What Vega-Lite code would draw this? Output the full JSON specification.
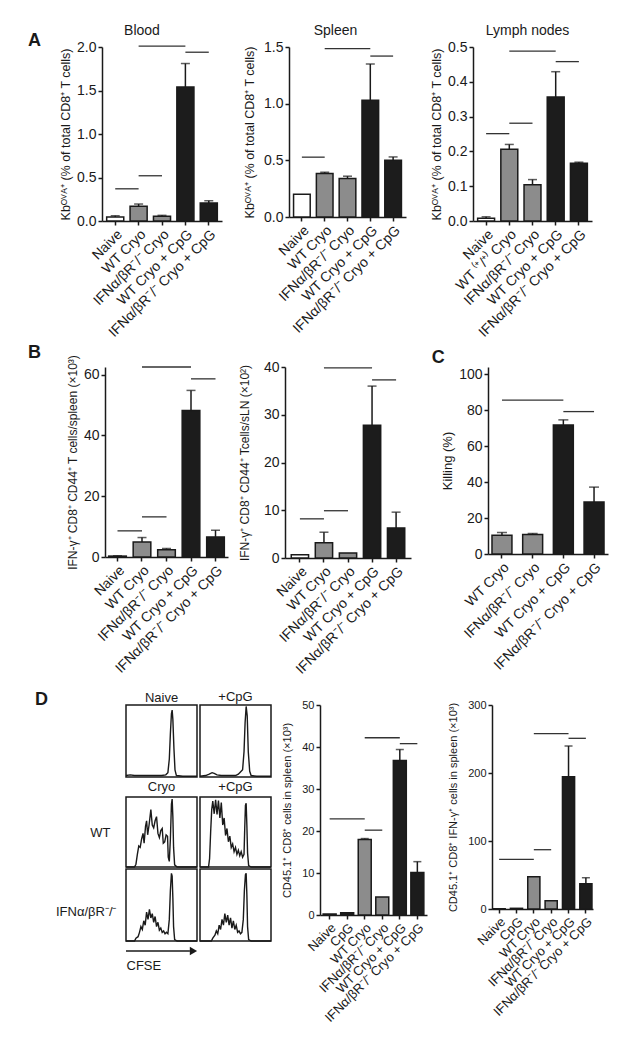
{
 "$schema": "https://vega.github.io/schema/vega-lite/v6.json",
 "background": "white",
 "padding": {"left": 23, "top": 24, "right": 4, "bottom": 4},
 "config": {
  "font": "Liberation Sans",
  "view": {"stroke": null},
  "axis": {"labelFont": "Liberation Sans", "titleFont": "Liberation Sans", "labelFontSize": 14, "titleFontSize": 12.5, "titleFontWeight": "normal", "labelColor": "#1a1a1a", "titleColor": "#1a1a1a", "domainColor": "#1a1a1a", "tickColor": "#1a1a1a", "domainWidth": 1.5, "tickWidth": 1.5, "tickSize": 4, "grid": false, "labelPadding": 2, "titlePadding": 4, "labelOverlap": false},
  "title": {"font": "Liberation Sans", "fontWeight": "normal", "fontSize": 14, "color": "#1a1a1a"},
  "text": {"font": "Liberation Sans"}
 },
 "columns": 1,
 "align": "none",
 "spacing": 4,
 "concat": [
  {
   "bounds": "flush",
   "spacing": 67,
   "hconcat": [
    {"width": 12, "height": 2,
     "data": {"values": [{"t": "A"}]},
     "mark": {"type": "text", "fontSize": 18, "fontWeight": "bold", "color": "#1a1a1a", "align": "left", "baseline": "alphabetic", "dx": -1, "dy": -2},
     "encoding": {"text": {"field": "t"}}},
    {
     "width": 120, "height": 174,
     "title": {"text": "Blood", "dx": -20, "offset": 2},
     "data": {"values": [
      {"g": "Naive", "c": "w", "m": 0.045, "u": 0.06},
      {"g": "WT Cryo", "c": "g", "m": 0.17, "u": 0.195},
      {"g": "IFNα/βR⁻/⁻ Cryo", "c": "g", "m": 0.055, "u": 0.065},
      {"g": "WT Cryo + CpG", "c": "k", "m": 1.54, "u": 1.81},
      {"g": "IFNα/βR⁻/⁻ Cryo + CpG", "c": "k", "m": 0.207, "u": 0.233}
     ]},
     "layer": [
      {"mark": {"type": "bar", "stroke": "#1a1a1a", "strokeWidth": 1.5},
       "encoding": {
        "x": {"field": "g", "type": "nominal", "title": null, "scale": {"domain": ["Naive", "WT Cryo", "IFNα/βR⁻/⁻ Cryo", "WT Cryo + CpG", "IFNα/βR⁻/⁻ Cryo + CpG"], "paddingInner": 0.27, "paddingOuter": 0.2}, "axis": {"labelAngle": -45}},
        "y": {"field": "m", "type": "quantitative", "title": "Kbᴼⱽᴬ⁺ (% of total CD8⁺ T cells)", "scale": {"domain": [0, 2], "nice": false}, "axis": {"values": [0, 0.5, 1, 1.5, 2], "tickCount": 12, "format": ".1f"}},
        "fill": {"field": "c", "type": "nominal", "scale": {"domain": ["w", "g", "k"], "range": ["#ffffff", "#8c8c8c", "#1c1c1c"]}, "legend": null}}},
      {"transform": [{"filter": "isValid(datum.u)"}], "mark": {"type": "rule", "color": "#1a1a1a", "strokeWidth": 1.5},
       "encoding": {"x": {"field": "g", "type": "nominal", "title": null}, "y": {"field": "m", "type": "quantitative", "title": "Kbᴼⱽᴬ⁺ (% of total CD8⁺ T cells)"}, "y2": {"field": "u"}}},
      {"transform": [{"filter": "isValid(datum.u)"}], "mark": {"type": "tick", "color": "#1a1a1a", "thickness": 1.5, "size": 9},
       "encoding": {"x": {"field": "g", "type": "nominal", "title": null}, "y": {"field": "u", "type": "quantitative", "title": "Kbᴼⱽᴬ⁺ (% of total CD8⁺ T cells)"}}},
      {"data": {"values": [
        {"a": "Naive", "b": "WT Cryo", "y": 0.37},
        {"a": "WT Cryo", "b": "IFNα/βR⁻/⁻ Cryo", "y": 0.52},
        {"a": "WT Cryo", "b": "WT Cryo + CpG", "y": 2.01},
        {"a": "WT Cryo + CpG", "b": "IFNα/βR⁻/⁻ Cryo + CpG", "y": 1.94}
       ]},
       "mark": {"type": "rule", "color": "#333333", "strokeWidth": 1.3},
       "encoding": {"x": {"field": "a", "type": "nominal", "title": null}, "x2": {"field": "b"}, "y": {"field": "y", "type": "quantitative", "title": "Kbᴼⱽᴬ⁺ (% of total CD8⁺ T cells)"}}}
     ]
    },
    {
     "width": 117, "height": 170,
     "title": {"text": "Spleen", "dx": -12, "offset": 2},
     "data": {"values": [
      {"g": "Naive", "c": "w", "m": 0.2},
      {"g": "WT Cryo", "c": "g", "m": 0.383, "u": 0.395},
      {"g": "IFNα/βR⁻/⁻ Cryo", "c": "g", "m": 0.34, "u": 0.36},
      {"g": "WT Cryo + CpG", "c": "k", "m": 1.03, "u": 1.35},
      {"g": "IFNα/βR⁻/⁻ Cryo + CpG", "c": "k", "m": 0.5, "u": 0.53}
     ]},
     "layer": [
      {"mark": {"type": "bar", "stroke": "#1a1a1a", "strokeWidth": 1.5},
       "encoding": {
        "x": {"field": "g", "type": "nominal", "title": null, "scale": {"domain": ["Naive", "WT Cryo", "IFNα/βR⁻/⁻ Cryo", "WT Cryo + CpG", "IFNα/βR⁻/⁻ Cryo + CpG"], "paddingInner": 0.27, "paddingOuter": 0.2}, "axis": {"labelAngle": -45}},
        "y": {"field": "m", "type": "quantitative", "title": "Kbᴼⱽᴬ⁺ (% of total CD8⁺ T cells)", "scale": {"domain": [0, 1.5], "nice": false}, "axis": {"values": [0, 0.5, 1, 1.5], "tickCount": 12, "format": ".1f", "titlePadding": 7}},
        "fill": {"field": "c", "type": "nominal", "scale": {"domain": ["w", "g", "k"], "range": ["#ffffff", "#8c8c8c", "#1c1c1c"]}, "legend": null}}},
      {"transform": [{"filter": "isValid(datum.u)"}], "mark": {"type": "rule", "color": "#1a1a1a", "strokeWidth": 1.5},
       "encoding": {"x": {"field": "g", "type": "nominal", "title": null}, "y": {"field": "m", "type": "quantitative", "title": "Kbᴼⱽᴬ⁺ (% of total CD8⁺ T cells)"}, "y2": {"field": "u"}}},
      {"transform": [{"filter": "isValid(datum.u)"}], "mark": {"type": "tick", "color": "#1a1a1a", "thickness": 1.5, "size": 9},
       "encoding": {"x": {"field": "g", "type": "nominal", "title": null}, "y": {"field": "u", "type": "quantitative", "title": "Kbᴼⱽᴬ⁺ (% of total CD8⁺ T cells)"}}},
      {"data": {"values": [
        {"a": "Naive", "b": "WT Cryo", "y": 0.528},
        {"a": "WT Cryo", "b": "WT Cryo + CpG", "y": 1.485},
        {"a": "WT Cryo + CpG", "b": "IFNα/βR⁻/⁻ Cryo + CpG", "y": 1.42}
       ]},
       "mark": {"type": "rule", "color": "#333333", "strokeWidth": 1.3},
       "encoding": {"x": {"field": "a", "type": "nominal", "title": null}, "x2": {"field": "b"}, "y": {"field": "y", "type": "quantitative", "title": "Kbᴼⱽᴬ⁺ (% of total CD8⁺ T cells)"}}}
     ]
    },
    {
     "width": 119, "height": 174,
     "title": {"text": "Lymph nodes", "dx": -5, "offset": 2},
     "data": {"values": [
      {"g": "Naive", "c": "w", "m": 0.008, "u": 0.012},
      {"g": "WT ⁽⁺/⁺⁾ Cryo", "c": "g", "m": 0.206, "u": 0.22},
      {"g": "IFNα/βR⁻/⁻ Cryo", "c": "g", "m": 0.104, "u": 0.119},
      {"g": "WT Cryo + CpG", "c": "k", "m": 0.356, "u": 0.429},
      {"g": "IFNα/βR⁻/⁻ Cryo + CpG", "c": "k", "m": 0.166, "u": 0.169}
     ]},
     "layer": [
      {"mark": {"type": "bar", "stroke": "#1a1a1a", "strokeWidth": 1.5},
       "encoding": {
        "x": {"field": "g", "type": "nominal", "title": null, "scale": {"domain": ["Naive", "WT ⁽⁺/⁺⁾ Cryo", "IFNα/βR⁻/⁻ Cryo", "WT Cryo + CpG", "IFNα/βR⁻/⁻ Cryo + CpG"], "paddingInner": 0.27, "paddingOuter": 0.2}, "axis": {"labelAngle": -45}},
        "y": {"field": "m", "type": "quantitative", "title": "Kbᴼⱽᴬ⁺ (% of total CD8⁺ T cells)", "scale": {"domain": [0, 0.5], "nice": false}, "axis": {"values": [0, 0.1, 0.2, 0.3, 0.4, 0.5], "tickCount": 12, "format": ".1f"}},
        "fill": {"field": "c", "type": "nominal", "scale": {"domain": ["w", "g", "k"], "range": ["#ffffff", "#8c8c8c", "#1c1c1c"]}, "legend": null}}},
      {"transform": [{"filter": "isValid(datum.u)"}], "mark": {"type": "rule", "color": "#1a1a1a", "strokeWidth": 1.5},
       "encoding": {"x": {"field": "g", "type": "nominal", "title": null}, "y": {"field": "m", "type": "quantitative", "title": "Kbᴼⱽᴬ⁺ (% of total CD8⁺ T cells)"}, "y2": {"field": "u"}}},
      {"transform": [{"filter": "isValid(datum.u)"}], "mark": {"type": "tick", "color": "#1a1a1a", "thickness": 1.5, "size": 9},
       "encoding": {"x": {"field": "g", "type": "nominal", "title": null}, "y": {"field": "u", "type": "quantitative", "title": "Kbᴼⱽᴬ⁺ (% of total CD8⁺ T cells)"}}},
      {"data": {"values": [
        {"a": "Naive", "b": "WT ⁽⁺/⁺⁾ Cryo", "y": 0.251},
        {"a": "WT ⁽⁺/⁺⁾ Cryo", "b": "IFNα/βR⁻/⁻ Cryo", "y": 0.281},
        {"a": "WT ⁽⁺/⁺⁾ Cryo", "b": "WT Cryo + CpG", "y": 0.488},
        {"a": "WT Cryo + CpG", "b": "IFNα/βR⁻/⁻ Cryo + CpG", "y": 0.458}
       ]},
       "mark": {"type": "rule", "color": "#333333", "strokeWidth": 1.3},
       "encoding": {"x": {"field": "a", "type": "nominal", "title": null}, "x2": {"field": "b"}, "y": {"field": "y", "type": "quantitative", "title": "Kbᴼⱽᴬ⁺ (% of total CD8⁺ T cells)"}}}
     ]
    }
   ]
  },
  {
   "columns": 1,
   "align": "none",
   "spacing": 12,
   "concat": [
    {
     "spacing": 20,
     "hconcat": [
      {
       "bounds": "flush",
       "spacing": 57,
       "hconcat": [
        {"width": 25, "height": 2,
         "data": {"values": [{"t": "B"}]},
         "mark": {"type": "text", "fontSize": 18, "fontWeight": "bold", "color": "#1a1a1a", "align": "left", "baseline": "alphabetic", "dx": -7.5, "dy": -10},
         "encoding": {"text": {"field": "t"}}},
        {
         "width": 123, "height": 190,
         "data": {"values": [
          {"g": "Naive", "c": "w", "m": 0.3, "u": 0.4},
          {"g": "WT Cryo", "c": "g", "m": 4.95, "u": 6.4},
          {"g": "IFNα/βR⁻/⁻ Cryo", "c": "g", "m": 2.4, "u": 2.8},
          {"g": "WT Cryo + CpG", "c": "k", "m": 48.2, "u": 54.8},
          {"g": "IFNα/βR⁻/⁻ Cryo + CpG", "c": "k", "m": 6.6, "u": 8.8}
         ]},
         "layer": [
          {"mark": {"type": "bar", "stroke": "#1a1a1a", "strokeWidth": 1.5},
           "encoding": {
            "x": {"field": "g", "type": "nominal", "title": null, "scale": {"domain": ["Naive", "WT Cryo", "IFNα/βR⁻/⁻ Cryo", "WT Cryo + CpG", "IFNα/βR⁻/⁻ Cryo + CpG"], "paddingInner": 0.28, "paddingOuter": 0.15}, "axis": {"labelAngle": -45}},
            "y": {"field": "m", "type": "quantitative", "title": "IFN-γ⁺ CD8⁺ CD44⁺ T cells/spleen (×10³)", "scale": {"domain": [0, 62.5], "nice": false}, "axis": {"values": [0, 20, 40, 60], "tickCount": 12, "titleFontSize": 12}},
            "fill": {"field": "c", "type": "nominal", "scale": {"domain": ["w", "g", "k"], "range": ["#ffffff", "#8c8c8c", "#1c1c1c"]}, "legend": null}}},
          {"transform": [{"filter": "isValid(datum.u)"}], "mark": {"type": "rule", "color": "#1a1a1a", "strokeWidth": 1.5},
           "encoding": {"x": {"field": "g", "type": "nominal", "title": null}, "y": {"field": "m", "type": "quantitative", "title": "IFN-γ⁺ CD8⁺ CD44⁺ T cells/spleen (×10³)"}, "y2": {"field": "u"}}},
          {"transform": [{"filter": "isValid(datum.u)"}], "mark": {"type": "tick", "color": "#1a1a1a", "thickness": 1.5, "size": 9},
           "encoding": {"x": {"field": "g", "type": "nominal", "title": null}, "y": {"field": "u", "type": "quantitative", "title": "IFN-γ⁺ CD8⁺ CD44⁺ T cells/spleen (×10³)"}}},
          {"data": {"values": [
            {"a": "Naive", "b": "WT Cryo", "y": 8.6},
            {"a": "WT Cryo", "b": "IFNα/βR⁻/⁻ Cryo", "y": 13.2},
            {"a": "WT Cryo", "b": "WT Cryo + CpG", "y": 62.5},
            {"a": "WT Cryo + CpG", "b": "IFNα/βR⁻/⁻ Cryo + CpG", "y": 58.6}
           ]},
           "mark": {"type": "rule", "color": "#333333", "strokeWidth": 1.3},
           "encoding": {"x": {"field": "a", "type": "nominal", "title": null}, "x2": {"field": "b"}, "y": {"field": "y", "type": "quantitative", "title": "IFN-γ⁺ CD8⁺ CD44⁺ T cells/spleen (×10³)"}}}
         ]
        },
        {
         "width": 126, "height": 191,
         "data": {"values": [
          {"g": "Naive", "c": "w", "m": 0.7},
          {"g": "WT Cryo", "c": "g", "m": 3.2, "u": 5.4},
          {"g": "IFNα/βR⁻/⁻ Cryo", "c": "g", "m": 1.05},
          {"g": "WT Cryo + CpG", "c": "k", "m": 27.8, "u": 36.0},
          {"g": "IFNα/βR⁻/⁻ Cryo + CpG", "c": "k", "m": 6.3, "u": 9.6}
         ]},
         "layer": [
          {"mark": {"type": "bar", "stroke": "#1a1a1a", "strokeWidth": 1.5},
           "encoding": {
            "x": {"field": "g", "type": "nominal", "title": null, "scale": {"domain": ["Naive", "WT Cryo", "IFNα/βR⁻/⁻ Cryo", "WT Cryo + CpG", "IFNα/βR⁻/⁻ Cryo + CpG"], "paddingInner": 0.28, "paddingOuter": 0.26}, "axis": {"labelAngle": -45}},
            "y": {"field": "m", "type": "quantitative", "title": "IFN-γ⁺ CD8⁺ CD44⁺ Tcells/sLN (×10²)", "scale": {"domain": [0, 40], "nice": false}, "axis": {"values": [0, 10, 20, 30, 40], "tickCount": 12, "titleFontSize": 12, "titlePadding": 12}},
            "fill": {"field": "c", "type": "nominal", "scale": {"domain": ["w", "g", "k"], "range": ["#ffffff", "#8c8c8c", "#1c1c1c"]}, "legend": null}}},
          {"transform": [{"filter": "isValid(datum.u)"}], "mark": {"type": "rule", "color": "#1a1a1a", "strokeWidth": 1.5},
           "encoding": {"x": {"field": "g", "type": "nominal", "title": null}, "y": {"field": "m", "type": "quantitative", "title": "IFN-γ⁺ CD8⁺ CD44⁺ Tcells/sLN (×10²)"}, "y2": {"field": "u"}}},
          {"transform": [{"filter": "isValid(datum.u)"}], "mark": {"type": "tick", "color": "#1a1a1a", "thickness": 1.5, "size": 9},
           "encoding": {"x": {"field": "g", "type": "nominal", "title": null}, "y": {"field": "u", "type": "quantitative", "title": "IFN-γ⁺ CD8⁺ CD44⁺ Tcells/sLN (×10²)"}}},
          {"data": {"values": [
            {"a": "Naive", "b": "WT Cryo", "y": 8.2},
            {"a": "WT Cryo", "b": "IFNα/βR⁻/⁻ Cryo", "y": 9.9},
            {"a": "WT Cryo", "b": "WT Cryo + CpG", "y": 39.8},
            {"a": "WT Cryo + CpG", "b": "IFNα/βR⁻/⁻ Cryo + CpG", "y": 37.3}
           ]},
           "mark": {"type": "rule", "color": "#333333", "strokeWidth": 1.3},
           "encoding": {"x": {"field": "a", "type": "nominal", "title": null}, "x2": {"field": "b"}, "y": {"field": "y", "type": "quantitative", "title": "IFN-γ⁺ CD8⁺ CD44⁺ Tcells/sLN (×10²)"}}}
         ]
        }
       ]
      },
      {
       "width": 120, "height": 187,
       "title": {"text": "C", "anchor": "start", "frame": "bounds", "fontSize": 18, "fontWeight": "bold", "dx": -10, "offset": 0},
       "data": {"values": [
        {"g": "WT Cryo", "c": "g", "m": 10.4, "u": 12.0},
        {"g": "IFNα/βR⁻/⁻ Cryo", "c": "g", "m": 10.9, "u": 11.4},
        {"g": "WT Cryo + CpG", "c": "k", "m": 71.8, "u": 74.6},
        {"g": "IFNα/βR⁻/⁻ Cryo + CpG", "c": "k", "m": 28.9, "u": 37.2}
       ]},
       "layer": [
        {"mark": {"type": "bar", "stroke": "#1a1a1a", "strokeWidth": 1.5},
         "encoding": {
          "x": {"field": "g", "type": "nominal", "title": null, "scale": {"domain": ["WT Cryo", "IFNα/βR⁻/⁻ Cryo", "WT Cryo + CpG", "IFNα/βR⁻/⁻ Cryo + CpG"], "paddingInner": 0.35, "paddingOuter": 0.13}, "axis": {"labelAngle": -45}},
          "y": {"field": "m", "type": "quantitative", "title": "Killing (%)", "scale": {"domain": [0, 104], "nice": false}, "axis": {"values": [0, 20, 40, 60, 80, 100], "tickCount": 12, "titleFontSize": 13}},
          "fill": {"field": "c", "type": "nominal", "scale": {"domain": ["w", "g", "k"], "range": ["#ffffff", "#8c8c8c", "#1c1c1c"]}, "legend": null}}},
        {"transform": [{"filter": "isValid(datum.u)"}], "mark": {"type": "rule", "color": "#1a1a1a", "strokeWidth": 1.5},
         "encoding": {"x": {"field": "g", "type": "nominal", "title": null}, "y": {"field": "m", "type": "quantitative", "title": "Killing (%)"}, "y2": {"field": "u"}}},
        {"transform": [{"filter": "isValid(datum.u)"}], "mark": {"type": "tick", "color": "#1a1a1a", "thickness": 1.5, "size": 10},
         "encoding": {"x": {"field": "g", "type": "nominal", "title": null}, "y": {"field": "u", "type": "quantitative", "title": "Killing (%)"}}},
        {"data": {"values": [
          {"a": "WT Cryo", "b": "WT Cryo + CpG", "y": 85.6},
          {"a": "WT Cryo + CpG", "b": "IFNα/βR⁻/⁻ Cryo + CpG", "y": 79.2}
         ]},
         "mark": {"type": "rule", "color": "#333333", "strokeWidth": 1.3},
         "encoding": {"x": {"field": "a", "type": "nominal", "title": null}, "x2": {"field": "b"}, "y": {"field": "y", "type": "quantitative", "title": "Killing (%)"}}}
       ]
      }
     ]
    },
    {
     "spacing": 6,
     "hconcat": [
      {"width": 1, "height": 2,
       "data": {"values": [{"t": "D"}]},
       "mark": {"type": "text", "fontSize": 18, "fontWeight": "bold", "color": "#1a1a1a", "align": "left", "baseline": "alphabetic", "dx": 11.5, "dy": -1},
       "encoding": {"text": {"field": "t"}}},
      {
       "columns": 2,
       "bounds": "flush",
       "align": "each",
       "spacing": {"row": 2, "column": 3},
       "concat": [
        {"width": 71, "height": 72, "view": {"stroke": "#1a1a1a", "strokeWidth": 1.5},
         "title": {"text": "Naive", "fontSize": 13, "offset": 0},
         "data": {"values": [{"x": 0, "y": 2}, {"x": 6, "y": 3}, {"x": 12, "y": 2}, {"x": 20, "y": 2}, {"x": 30, "y": 2}, {"x": 40, "y": 2}, {"x": 50, "y": 2}, {"x": 56, "y": 3}, {"x": 59, "y": 6}, {"x": 61, "y": 25}, {"x": 62.5, "y": 60}, {"x": 64, "y": 88}, {"x": 65, "y": 93}, {"x": 66, "y": 80}, {"x": 67.5, "y": 40}, {"x": 69, "y": 10}, {"x": 71, "y": 2}, {"x": 80, "y": 1}, {"x": 100, "y": 1}]},
         "mark": {"type": "line", "color": "#1a1a1a", "strokeWidth": 1.4},
         "encoding": {"x": {"field": "x", "type": "quantitative", "scale": {"domain": [0, 100], "nice": false}, "axis": null}, "y": {"field": "y", "type": "quantitative", "scale": {"domain": [0, 100], "nice": false}, "axis": null}}},
        {"width": 71, "height": 72, "view": {"stroke": "#1a1a1a", "strokeWidth": 1.5},
         "title": {"text": "+CpG", "fontSize": 13, "offset": 0},
         "data": {"values": [{"x": 0, "y": 1}, {"x": 8, "y": 2}, {"x": 13, "y": 4}, {"x": 17, "y": 6}, {"x": 20, "y": 5}, {"x": 24, "y": 3}, {"x": 30, "y": 2}, {"x": 40, "y": 2}, {"x": 50, "y": 2}, {"x": 54, "y": 4}, {"x": 57, "y": 7}, {"x": 60, "y": 10}, {"x": 62, "y": 35}, {"x": 63.5, "y": 75}, {"x": 65, "y": 98}, {"x": 66.5, "y": 85}, {"x": 68, "y": 35}, {"x": 70, "y": 8}, {"x": 72, "y": 2}, {"x": 80, "y": 1}, {"x": 100, "y": 1}]},
         "mark": {"type": "line", "color": "#1a1a1a", "strokeWidth": 1.4},
         "encoding": {"x": {"field": "x", "type": "quantitative", "scale": {"domain": [0, 100], "nice": false}, "axis": null}, "y": {"field": "y", "type": "quantitative", "scale": {"domain": [0, 100], "nice": false}, "axis": null}}},
        {"width": 71, "height": 16,
         "data": {"values": [{"t": "Cryo"}]},
         "mark": {"type": "text", "fontSize": 13, "color": "#1a1a1a", "baseline": "middle"},
         "encoding": {"text": {"field": "t"}}},
        {"width": 71, "height": 16,
         "data": {"values": [{"t": "+CpG"}]},
         "mark": {"type": "text", "fontSize": 13, "color": "#1a1a1a", "baseline": "middle"},
         "encoding": {"text": {"field": "t"}}},
        {"width": 71, "height": 70, "view": {"stroke": "#1a1a1a", "strokeWidth": 1.5},
         "data": {"values": [{"x": 0, "y": 0}, {"x": 12, "y": 0}, {"x": 14, "y": 4}, {"x": 16, "y": 18}, {"x": 18, "y": 30}, {"x": 20, "y": 28}, {"x": 22, "y": 40}, {"x": 24, "y": 48}, {"x": 25.5, "y": 34}, {"x": 27.5, "y": 58}, {"x": 29, "y": 66}, {"x": 30.5, "y": 46}, {"x": 32.5, "y": 60}, {"x": 35, "y": 82}, {"x": 37, "y": 60}, {"x": 39, "y": 56}, {"x": 41, "y": 66}, {"x": 43, "y": 72}, {"x": 45, "y": 48}, {"x": 47, "y": 42}, {"x": 49, "y": 52}, {"x": 51, "y": 55}, {"x": 52.5, "y": 34}, {"x": 54.5, "y": 36}, {"x": 56.5, "y": 46}, {"x": 58.5, "y": 44}, {"x": 59.5, "y": 14}, {"x": 61, "y": 8}, {"x": 62.5, "y": 40}, {"x": 64, "y": 90}, {"x": 65, "y": 97}, {"x": 66, "y": 72}, {"x": 67, "y": 28}, {"x": 68.5, "y": 3}, {"x": 72, "y": 0}, {"x": 100, "y": 0}]},
         "mark": {"type": "line", "color": "#1a1a1a", "strokeWidth": 1.4},
         "encoding": {"x": {"field": "x", "type": "quantitative", "scale": {"domain": [0, 100], "nice": false}, "axis": null}, "y": {"field": "y", "type": "quantitative", "scale": {"domain": [0, 100], "nice": false}, "axis": {"title": "WT", "titleAngle": 0, "titleAlign": "right", "titleBaseline": "middle", "titleFontSize": 13, "labels": false, "ticks": false, "domain": false, "titlePadding": 16}}}},
        {"width": 71, "height": 70, "view": {"stroke": "#1a1a1a", "strokeWidth": 1.5},
         "data": {"values": [{"x": 0, "y": 0}, {"x": 12, "y": 0}, {"x": 13.5, "y": 12}, {"x": 15, "y": 50}, {"x": 16.5, "y": 82}, {"x": 18, "y": 94}, {"x": 20, "y": 76}, {"x": 22, "y": 96}, {"x": 24, "y": 75}, {"x": 26, "y": 95}, {"x": 28, "y": 70}, {"x": 30, "y": 92}, {"x": 32, "y": 60}, {"x": 34, "y": 70}, {"x": 36, "y": 45}, {"x": 38, "y": 55}, {"x": 40, "y": 36}, {"x": 42, "y": 44}, {"x": 44, "y": 28}, {"x": 46, "y": 33}, {"x": 48, "y": 22}, {"x": 50, "y": 28}, {"x": 52, "y": 18}, {"x": 54, "y": 24}, {"x": 56, "y": 16}, {"x": 58, "y": 22}, {"x": 60, "y": 14}, {"x": 62, "y": 18}, {"x": 63, "y": 55}, {"x": 64, "y": 88}, {"x": 65, "y": 91}, {"x": 66, "y": 60}, {"x": 67, "y": 20}, {"x": 68.5, "y": 2}, {"x": 72, "y": 0}, {"x": 100, "y": 0}]},
         "mark": {"type": "line", "color": "#1a1a1a", "strokeWidth": 1.4},
         "encoding": {"x": {"field": "x", "type": "quantitative", "scale": {"domain": [0, 100], "nice": false}, "axis": null}, "y": {"field": "y", "type": "quantitative", "scale": {"domain": [0, 100], "nice": false}, "axis": null}}},
        {"width": 71, "height": 72, "view": {"stroke": "#1a1a1a", "strokeWidth": 1.5},
         "data": {"values": [{"x": 0, "y": 0}, {"x": 12, "y": 0}, {"x": 14, "y": 4}, {"x": 17, "y": 6}, {"x": 19, "y": 12}, {"x": 21, "y": 20}, {"x": 23, "y": 16}, {"x": 25, "y": 28}, {"x": 27, "y": 22}, {"x": 29, "y": 40}, {"x": 31, "y": 30}, {"x": 33, "y": 44}, {"x": 35, "y": 32}, {"x": 37, "y": 38}, {"x": 39, "y": 26}, {"x": 41, "y": 34}, {"x": 43, "y": 20}, {"x": 45, "y": 26}, {"x": 47, "y": 15}, {"x": 49, "y": 18}, {"x": 51, "y": 12}, {"x": 53, "y": 14}, {"x": 55, "y": 10}, {"x": 57, "y": 12}, {"x": 59, "y": 10}, {"x": 61, "y": 30}, {"x": 62.5, "y": 70}, {"x": 64, "y": 94}, {"x": 65, "y": 90}, {"x": 66, "y": 60}, {"x": 67, "y": 20}, {"x": 68.5, "y": 2}, {"x": 72, "y": 0}, {"x": 100, "y": 0}]},
         "mark": {"type": "line", "color": "#1a1a1a", "strokeWidth": 1.4},
         "encoding": {"x": {"field": "x", "type": "quantitative", "scale": {"domain": [0, 100], "nice": false}, "axis": null}, "y": {"field": "y", "type": "quantitative", "scale": {"domain": [0, 100], "nice": false}, "axis": {"title": "IFNα/βR⁻/⁻", "titleAngle": 0, "titleAlign": "right", "titleBaseline": "top", "titleFontSize": 13, "labels": false, "ticks": false, "domain": false, "titlePadding": 10}}}},
        {"width": 71, "height": 72, "view": {"stroke": "#1a1a1a", "strokeWidth": 1.5},
         "data": {"values": [{"x": 0, "y": 0}, {"x": 16, "y": 0}, {"x": 18, "y": 4}, {"x": 21, "y": 8}, {"x": 23, "y": 14}, {"x": 25, "y": 10}, {"x": 27, "y": 22}, {"x": 29, "y": 16}, {"x": 31, "y": 30}, {"x": 33, "y": 22}, {"x": 35, "y": 38}, {"x": 37, "y": 26}, {"x": 39, "y": 36}, {"x": 41, "y": 22}, {"x": 43, "y": 32}, {"x": 45, "y": 18}, {"x": 47, "y": 28}, {"x": 49, "y": 16}, {"x": 51, "y": 22}, {"x": 53, "y": 12}, {"x": 55, "y": 14}, {"x": 57, "y": 10}, {"x": 59, "y": 12}, {"x": 61, "y": 30}, {"x": 62.5, "y": 70}, {"x": 64, "y": 92}, {"x": 65, "y": 94}, {"x": 66, "y": 65}, {"x": 67, "y": 20}, {"x": 68.5, "y": 2}, {"x": 72, "y": 0}, {"x": 100, "y": 0}]},
         "mark": {"type": "line", "color": "#1a1a1a", "strokeWidth": 1.4},
         "encoding": {"x": {"field": "x", "type": "quantitative", "scale": {"domain": [0, 100], "nice": false}, "axis": null}, "y": {"field": "y", "type": "quantitative", "scale": {"domain": [0, 100], "nice": false}, "axis": null}}},
        {"width": 71, "height": 16,
         "data": {"values": [{"t": "CFSE"}]},
         "layer": [
          {"mark": {"type": "rule", "color": "#1a1a1a", "strokeWidth": 1.5},
           "encoding": {"x": {"datum": 0, "type": "quantitative", "scale": {"domain": [0, 100], "nice": false}, "axis": {"title": "CFSE", "labels": false, "ticks": false, "domain": false, "titleAnchor": "start", "titleFontSize": 13, "titlePadding": 0}}, "x2": {"datum": 90}, "y": {"datum": 0, "type": "quantitative", "scale": {"domain": [-1, 1]}, "axis": null}}},
          {"mark": {"type": "point", "shape": "triangle-right", "filled": true, "size": 70, "color": "#1a1a1a", "opacity": 1},
           "encoding": {"x": {"datum": 95, "type": "quantitative"}, "y": {"datum": 0, "type": "quantitative"}}}
         ]}
       ]
      },
      {
       "bounds": "flush",
       "spacing": 65,
       "hconcat": [
        {
         "width": 107, "height": 210,
         "data": {"values": [
          {"g": "Naive", "c": "w", "m": 0.25},
          {"g": "CpG", "c": "k", "m": 0.55},
          {"g": "WT Cryo", "c": "g", "m": 18.0, "u": 18.2},
          {"g": "IFNα/βR⁻/⁻ Cryo", "c": "g", "m": 4.3},
          {"g": "WT Cryo + CpG", "c": "k", "m": 36.8, "u": 39.4},
          {"g": "IFNα/βR⁻/⁻ Cryo + CpG", "c": "k", "m": 10.1, "u": 12.7}
         ]},
         "layer": [
          {"mark": {"type": "bar", "stroke": "#1a1a1a", "strokeWidth": 1.5},
           "encoding": {
            "x": {"field": "g", "type": "nominal", "title": null, "scale": {"domain": ["Naive", "CpG", "WT Cryo", "IFNα/βR⁻/⁻ Cryo", "WT Cryo + CpG", "IFNα/βR⁻/⁻ Cryo + CpG"], "paddingInner": 0.26, "paddingOuter": 0.18}, "axis": {"labelAngle": -45, "labelFontSize": 13}},
            "y": {"field": "m", "type": "quantitative", "title": "CD45.1⁺ CD8⁺ cells in spleen (×10³)", "scale": {"domain": [0, 50], "nice": false}, "axis": {"values": [0, 10, 20, 30, 40, 50], "tickCount": 12, "labelFontSize": 11, "titleFontSize": 11, "titlePadding": 9}},
            "fill": {"field": "c", "type": "nominal", "scale": {"domain": ["w", "g", "k"], "range": ["#ffffff", "#8c8c8c", "#1c1c1c"]}, "legend": null}}},
          {"transform": [{"filter": "isValid(datum.u)"}], "mark": {"type": "rule", "color": "#1a1a1a", "strokeWidth": 1.5},
           "encoding": {"x": {"field": "g", "type": "nominal", "title": null}, "y": {"field": "m", "type": "quantitative", "title": "CD45.1⁺ CD8⁺ cells in spleen (×10³)"}, "y2": {"field": "u"}}},
          {"transform": [{"filter": "isValid(datum.u)"}], "mark": {"type": "tick", "color": "#1a1a1a", "thickness": 1.5, "size": 8},
           "encoding": {"x": {"field": "g", "type": "nominal", "title": null}, "y": {"field": "u", "type": "quantitative", "title": "CD45.1⁺ CD8⁺ cells in spleen (×10³)"}}},
          {"data": {"values": [
            {"a": "Naive", "b": "WT Cryo", "y": 22.9},
            {"a": "WT Cryo", "b": "IFNα/βR⁻/⁻ Cryo", "y": 20.2},
            {"a": "WT Cryo", "b": "WT Cryo + CpG", "y": 42.2},
            {"a": "WT Cryo + CpG", "b": "IFNα/βR⁻/⁻ Cryo + CpG", "y": 40.8}
           ]},
           "mark": {"type": "rule", "color": "#333333", "strokeWidth": 1.3},
           "encoding": {"x": {"field": "a", "type": "nominal", "title": null}, "x2": {"field": "b"}, "y": {"field": "y", "type": "quantitative", "title": "CD45.1⁺ CD8⁺ cells in spleen (×10³)"}}}
         ]
        },
        {
         "width": 101, "height": 204,
         "data": {"values": [
          {"g": "Naive", "c": "w", "m": 0.4},
          {"g": "CpG", "c": "k", "m": 1.0},
          {"g": "WT Cryo", "c": "g", "m": 47.5},
          {"g": "IFNα/βR⁻/⁻ Cryo", "c": "g", "m": 12.2},
          {"g": "WT Cryo + CpG", "c": "k", "m": 194.6, "u": 239.7},
          {"g": "IFNα/βR⁻/⁻ Cryo + CpG", "c": "k", "m": 37.2, "u": 46}
         ]},
         "layer": [
          {"mark": {"type": "bar", "stroke": "#1a1a1a", "strokeWidth": 1.5},
           "encoding": {
            "x": {"field": "g", "type": "nominal", "title": null, "scale": {"domain": ["Naive", "CpG", "WT Cryo", "IFNα/βR⁻/⁻ Cryo", "WT Cryo + CpG", "IFNα/βR⁻/⁻ Cryo + CpG"], "paddingInner": 0.3, "paddingOuter": 0.06}, "axis": {"labelAngle": -45, "labelFontSize": 13}},
            "y": {"field": "m", "type": "quantitative", "title": "CD45.1⁺ CD8⁺ IFN-γ⁺ cells in spleen (×10³)", "scale": {"domain": [0, 300], "nice": false}, "axis": {"values": [0, 100, 200, 300], "tickCount": 12, "labelFontSize": 11, "titleFontSize": 11, "titlePadding": 9}},
            "fill": {"field": "c", "type": "nominal", "scale": {"domain": ["w", "g", "k"], "range": ["#ffffff", "#8c8c8c", "#1c1c1c"]}, "legend": null}}},
          {"transform": [{"filter": "isValid(datum.u)"}], "mark": {"type": "rule", "color": "#1a1a1a", "strokeWidth": 1.5},
           "encoding": {"x": {"field": "g", "type": "nominal", "title": null}, "y": {"field": "m", "type": "quantitative", "title": "CD45.1⁺ CD8⁺ IFN-γ⁺ cells in spleen (×10³)"}, "y2": {"field": "u"}}},
          {"transform": [{"filter": "isValid(datum.u)"}], "mark": {"type": "tick", "color": "#1a1a1a", "thickness": 1.5, "size": 8},
           "encoding": {"x": {"field": "g", "type": "nominal", "title": null}, "y": {"field": "u", "type": "quantitative", "title": "CD45.1⁺ CD8⁺ IFN-γ⁺ cells in spleen (×10³)"}}},
          {"data": {"values": [
            {"a": "Naive", "b": "WT Cryo", "y": 73},
            {"a": "WT Cryo", "b": "IFNα/βR⁻/⁻ Cryo", "y": 87.2},
            {"a": "WT Cryo", "b": "WT Cryo + CpG", "y": 258},
            {"a": "WT Cryo + CpG", "b": "IFNα/βR⁻/⁻ Cryo + CpG", "y": 251}
           ]},
           "mark": {"type": "rule", "color": "#333333", "strokeWidth": 1.3},
           "encoding": {"x": {"field": "a", "type": "nominal", "title": null}, "x2": {"field": "b"}, "y": {"field": "y", "type": "quantitative", "title": "CD45.1⁺ CD8⁺ IFN-γ⁺ cells in spleen (×10³)"}}}
         ]
        }
       ]
      }
     ]
    }
   ]
  }
 ]
}
